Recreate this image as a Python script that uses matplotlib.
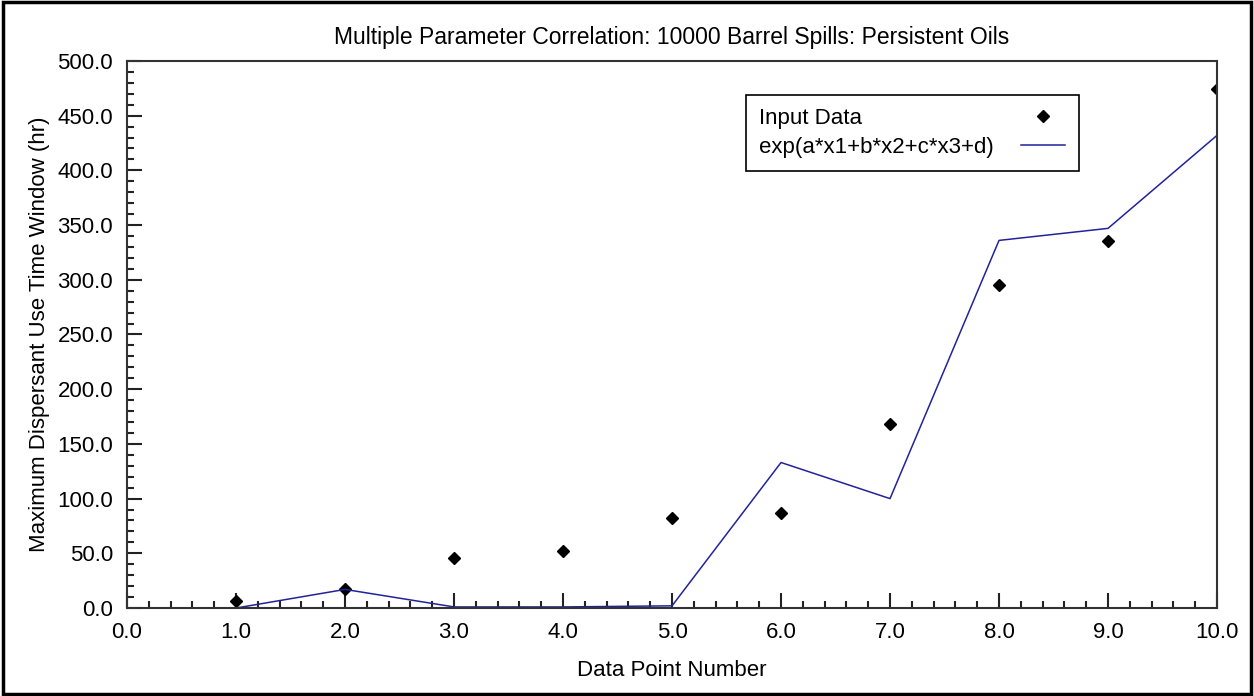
import matplotlib
matplotlib.use('Agg')
from matplotlib import pyplot as plt
from matplotlib.ticker import MultipleLocator, FormatStrFormatter
from matplotlib.patches import Rectangle

plt.rcParams['font.family'] = ['Liberation Sans', 'DejaVu Sans']

point_no = [1, 2, 3, 4, 5, 6, 7, 8, 9, 10]
input_data = [6.5, 17, 46, 52, 82, 87, 168, 295, 335, 474]
fit_values = [0, 17, 1, 1, 2, 133, 100, 336, 347, 432]

fig = plt.figure(figsize=(12.54, 6.96), dpi=100)
ax = fig.add_axes([0.1013, 0.1264, 0.8692, 0.786])

ax.plot(point_no, input_data, linestyle='none', marker='D', markersize=6,
        color='black', label='Input Data')
ax.plot(point_no, fit_values, color='#22229a', linewidth=1.1,
        label='exp(a*x1+b*x2+c*x3+d)')

ax.set_xlim(0, 10)
ax.set_ylim(0, 500)
ax.xaxis.set_major_locator(MultipleLocator(1))
ax.xaxis.set_minor_locator(MultipleLocator(0.2))
ax.yaxis.set_major_locator(MultipleLocator(50))
ax.yaxis.set_minor_locator(MultipleLocator(10))
ax.xaxis.set_major_formatter(FormatStrFormatter('%.1f'))
ax.yaxis.set_major_formatter(FormatStrFormatter('%.1f'))
ax.tick_params(which='both', direction='in', top=False, right=False,
               color='#222222', width=1.5, labelsize=16)
ax.tick_params(axis='x', pad=10)
ax.tick_params(axis='y', pad=10)
ax.tick_params(which='major', length=11)
ax.tick_params(which='minor', length=5)
for s in ax.spines.values():
    s.set_color('#333333')
    s.set_linewidth(1.5)

ax.set_title('Multiple Parameter Correlation: 10000 Barrel Spills: Persistent Oils',
             fontsize=16.5, pad=12)
ax.set_xlabel('Data Point Number', fontsize=16, labelpad=12)
ax.set_ylabel('Maximum Dispersant Use Time Window (hr)', fontsize=16, labelpad=5)

leg = ax.legend(loc='upper left', bbox_to_anchor=(0.568, 0.938), borderaxespad=0,
                markerfirst=False, fontsize=16, fancybox=False, framealpha=1,
                edgecolor='black', borderpad=0.6, labelspacing=0.35,
                handlelength=2.0, handletextpad=1.2)
leg.get_frame().set_linewidth(1.2)

# text left, symbols right: stretch each legend row to the same width
fig.canvas.draw()
renderer = fig.canvas.get_renderer()
col = leg._legend_handle_box.get_children()[0]
rows = col.get_children()
w = max(r.get_bbox(renderer).width for r in rows)
for r in rows:
    r.mode = 'expand'
col.width = w
col.align = 'left'

fig.patches.append(Rectangle((0.002, 0.003), 0.996, 0.994, transform=fig.transFigure,
                             fill=False, edgecolor='black', linewidth=2.5))

fig.savefig('out.png', dpi=100)
